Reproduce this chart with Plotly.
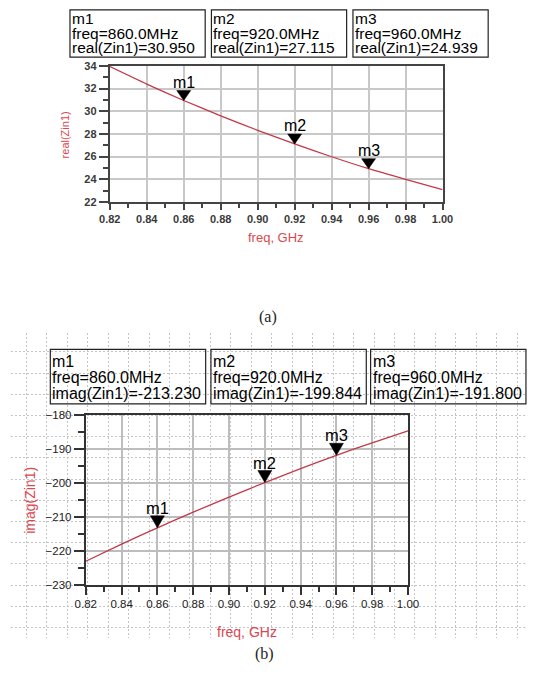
import plotly.graph_objects as go

# ---------------- data ----------------
freq_ghz = [0.82, 0.84, 0.86, 0.88, 0.90, 0.92, 0.94, 0.96, 0.98, 1.00]
real_zin1 = [33.95, 32.40, 30.95, 29.60, 28.32, 27.115, 25.99, 24.939, 24.00, 23.10]
imag_zin1 = [-223.1, -218.05, -213.23, -208.6, -204.15, -199.844, -195.75, -191.8, -188.1, -184.6]

marker_names = ["m1", "m2", "m3"]
marker_freq_ghz = [0.86, 0.92, 0.96]
marker_real = [30.950, 27.115, 24.939]
marker_imag = [-213.230, -199.844, -191.800]

x_ticks = [0.82, 0.84, 0.86, 0.88, 0.90, 0.92, 0.94, 0.96, 0.98, 1.00]
real_ticks = [22, 24, 26, 28, 30, 32, 34]
imag_ticks = [-230, -220, -210, -200, -190, -180]

W, H = 536, 680
FONT = "Liberation Sans"
RED = "#c23a4a"
TITLE_RED = "#d9484f"


def px(x):
    return x / W


def py(y):
    return 1 - y / H


fig = go.Figure()

# background dashed schematic grid (decorative subplot)
fig.add_trace(go.Scatter(x=[0], y=[0], mode="markers", marker=dict(opacity=0),
                         hoverinfo="skip", showlegend=False, xaxis="x", yaxis="y"))

fig.add_trace(go.Scatter(x=freq_ghz, y=real_zin1, mode="lines", line=dict(color=RED, width=1.3, shape="spline", smoothing=0.6),
                         showlegend=False, xaxis="x2", yaxis="y2"))
fig.add_trace(go.Scatter(x=freq_ghz, y=imag_zin1, mode="lines", line=dict(color=RED, width=1.3, shape="spline", smoothing=0.6),
                         showlegend=False, xaxis="x3", yaxis="y3"))

grid_dash = "2px,2px"
axis_common = dict(ticks="outside", showline=True, mirror=True, zeroline=False)

fig.update_layout(
    width=W, height=H, margin=dict(l=0, r=0, t=0, b=0),
    paper_bgcolor="white", plot_bgcolor="rgba(0,0,0,0)", showlegend=False,
    xaxis=dict(domain=[0, 1], range=[0, 536], tick0=16, dtick=21.33, showgrid=True,
               gridcolor="#c4c4c4", griddash=grid_dash, gridwidth=1, showticklabels=False,
               ticks="", zeroline=False, showline=False, fixedrange=True),
    yaxis=dict(domain=[py(643), py(333)], range=[643, 333], tick0=352, dtick=21.6, showgrid=True,
               gridcolor="#c4c4c4", griddash=grid_dash, gridwidth=1, showticklabels=False,
               ticks="", zeroline=False, showline=False, fixedrange=True),
    xaxis2=dict(domain=[px(103), px(450)], range=[0.82, 1.00], anchor="y2",
                tickvals=x_ticks, ticktext=[f"{v:.2f}" for v in x_ticks],
                ticklen=6, tickwidth=1.5, tickcolor="#444", linecolor="#444", linewidth=2,
                showgrid=True, gridcolor="#c8c8c8", gridwidth=1.5,
                tickfont=dict(family=FONT, size=11, color="#3a3a3a", weight="bold"),
                minor=dict(dtick=0.01, tick0=0.82, ticks="outside", ticklen=4, tickcolor="#444", showgrid=False),
                **axis_common),
    yaxis2=dict(domain=[py(199.5), py(61)], range=[22, 34], anchor="x2",
                tickvals=real_ticks, ticklen=9, tickwidth=1.5, tickcolor="#444", linecolor="#444", linewidth=2,
                showgrid=True, gridcolor="#c8c8c8", gridwidth=1.5,
                tickfont=dict(family=FONT, size=11, color="#3a3a3a", weight="bold"),
                minor=dict(dtick=1, tick0=22, ticks="outside", ticklen=5, tickcolor="#444", showgrid=False),
                **axis_common),
    xaxis3=dict(domain=[px(78), px(414)], range=[0.82, 1.00], anchor="y3",
                tickvals=x_ticks, ticktext=[f"{v:.2f}" for v in x_ticks],
                ticklen=8, tickwidth=1.5, tickcolor="#333", linecolor="#333", linewidth=2,
                showgrid=True, gridcolor="#bdbdbd", gridwidth=1.5,
                tickfont=dict(family=FONT, size=11.5, color="#222"),
                minor=dict(dtick=0.01, tick0=0.82, ticks="outside", ticklen=5, tickcolor="#333", showgrid=False),
                **axis_common),
    yaxis3=dict(domain=[py(589), py(416.7)], range=[-230, -180], anchor="x3",
                tickvals=imag_ticks, ticklen=10, tickwidth=1.5, tickcolor="#333", linecolor="#333", linewidth=2,
                showgrid=True, gridcolor="#bdbdbd", gridwidth=1.5,
                tickfont=dict(family=FONT, size=11.5, color="#222"),
                minor=dict(dtick=5, tick0=-230, ticks="outside", ticklen=6, tickcolor="#333", showgrid=False),
                **axis_common),
)

shapes = []
annotations = []


def text_ann(x, y, text, size=16, color="black", xanchor="left", family=FONT, textangle=0, yanchor="middle"):
    annotations.append(dict(x=px(x), y=py(y), xref="paper", yref="paper", text=text, showarrow=False,
                            xanchor=xanchor, yanchor=yanchor, textangle=textangle,
                            font=dict(family=family, size=size, color=color), borderpad=0))


# marker readout boxes
top_lefts = [61.5, 209, 356.6]
for i, name in enumerate(marker_names):
    x0 = top_lefts[i]
    shapes.append(dict(type="rect", xref="paper", yref="paper", x0=px(x0), x1=px(x0 + 141),
                       y0=py(52), y1=py(4), line=dict(color="#222", width=1.2)))
    text_ann(x0 + 1, 12.5, name, size=15.5)
    text_ann(x0 + 1, 27.5, f"freq={marker_freq_ghz[i] * 1000:.1f}MHz", size=15.5)
    text_ann(x0 + 1, 42.5, f"real(Zin1)={marker_real[i]:.3f}", size=15.5)

bot_lefts = [41, 208.5, 375]
for i, name in enumerate(marker_names):
    x0 = bot_lefts[i]
    shapes.append(dict(type="rect", xref="paper", yref="paper", x0=px(x0), x1=px(x0 + 162),
                       y0=py(405), y1=py(349.5), line=dict(color="#222", width=1.2)))
    text_ann(x0 + 1, 361.5, name)
    text_ann(x0 + 1, 377.9, f"freq={marker_freq_ghz[i] * 1000:.1f}MHz")
    text_ann(x0 + 1, 394.0, f"imag(Zin1)={marker_imag[i]:.3f}")

# marker triangles + labels on the curves
for i, name in enumerate(marker_names):
    shapes.append(dict(type="path", xref="x2", yref="y2", xsizemode="pixel", ysizemode="pixel",
                       xanchor=marker_freq_ghz[i], yanchor=marker_real[i],
                       path="M-7,10 L7,10 L0,0 Z", fillcolor="black", line=dict(color="black", width=0.5)))
    annotations.append(dict(x=marker_freq_ghz[i], y=marker_real[i], xref="x2", yref="y2", text=name,
                            showarrow=False, yshift=18, xanchor="center", yanchor="middle",
                            font=dict(family=FONT, size=16, color="black")))
    shapes.append(dict(type="path", xref="x3", yref="y3", xsizemode="pixel", ysizemode="pixel",
                       xanchor=marker_freq_ghz[i], yanchor=marker_imag[i],
                       path="M-7,12 L7,12 L0,0 Z", fillcolor="black", line=dict(color="black", width=0.5)))
    annotations.append(dict(x=marker_freq_ghz[i], y=marker_imag[i], xref="x3", yref="y3", text=name,
                            showarrow=False, yshift=20, xanchor="center", yanchor="middle",
                            font=dict(family=FONT, size=16.5, color="black")))

# axis titles
text_ann(276, 236, "freq, GHz", size=13, color=TITLE_RED, xanchor="center")
text_ann(56, 131, "real(Zin1)", size=11, color=TITLE_RED, xanchor="center", textangle=-90)
text_ann(246, 637, "freq, GHz", size=14, color=TITLE_RED, xanchor="center")
text_ann(19.5, 503, "imag(Zin1)", size=14, color=TITLE_RED, xanchor="center", textangle=-90)

# captions
text_ann(268, 317, "(a)", size=16, color="#222", xanchor="center", family="Liberation Serif")
text_ann(264, 660, "(b)", size=16, color="#222", xanchor="center", family="Liberation Serif")

fig.update_layout(shapes=shapes, annotations=annotations)
fig.write_html("out.html")
